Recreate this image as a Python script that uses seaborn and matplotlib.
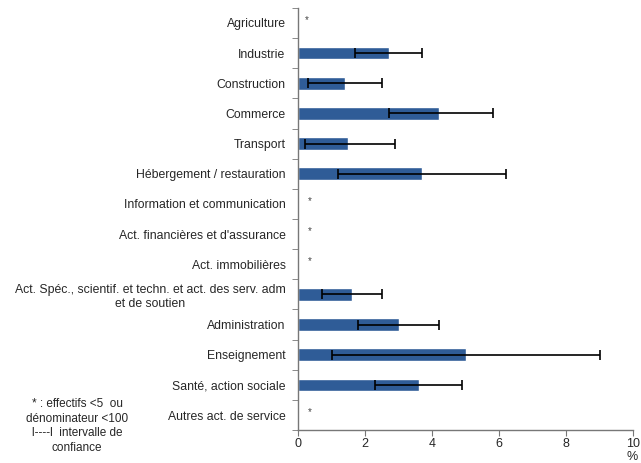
import numpy as np
import pandas as pd
import seaborn as sns
import matplotlib.pyplot as plt

# Data (%, with confidence interval)
categories = [
    "Agriculture", "Industrie", "Construction", "Commerce", "Transport",
    "Hébergement / restauration", "Information et communication",
    "Act. financières et d'assurance", "Act. immobilières",
    "Act. Spéc., scientif. et techn. et act. des serv. adm\net de soutien",
    "Administration", "Enseignement", "Santé, action sociale",
    "Autres act. de service",
]
values = [np.nan, 2.7, 1.4, 4.2, 1.5, 3.7, np.nan, np.nan, np.nan, 1.6, 3.0, 5.0, 3.6, np.nan]
ci_low = [np.nan, 1.7, 0.3, 2.7, 0.2, 1.2, np.nan, np.nan, np.nan, 0.7, 1.8, 1.0, 2.3, np.nan]
ci_high = [np.nan, 3.7, 2.5, 5.8, 2.9, 6.2, np.nan, np.nan, np.nan, 2.5, 4.2, 9.0, 4.9, np.nan]

df = pd.DataFrame({"secteur": categories, "valeur": values, "lo": ci_low, "hi": ci_high})

sns.set_style("white")
plt.rcParams["font.family"] = ["Liberation Sans", "DejaVu Sans"]

fig = plt.figure(figsize=(6.41, 4.63), dpi=100)
ax = fig.add_axes([0.465, 0.071, 0.523, 0.912])

sns.barplot(data=df, x="valeur", y="secteur", order=categories, orient="h",
            color="#2F5C97", saturation=1, width=0.42, ax=ax, errorbar=None)

# confidence intervals
ypos = np.arange(len(categories))
ok = df["valeur"].notna().values
xerr = np.vstack([(df["valeur"] - df["lo"]).values[ok], (df["hi"] - df["valeur"]).values[ok]])
ax.errorbar(df["valeur"].values[ok], ypos[ok], xerr=xerr, fmt="none",
            ecolor="black", elinewidth=1.2, capsize=3.5, capthick=1.2)

# asterisks for suppressed values
for i, v in enumerate(values):
    if np.isnan(v):
        dx = 0.25 if i == 0 else 0.35
        ax.text(dx, i - 0.1, "*", ha="center", va="center", fontsize=7, color="#444444")

ax.set_xlim(0, 10)
ax.set_ylim(len(categories) - 0.5, -0.5)
ax.set_xticks(range(0, 11, 2))
ax.set_xlabel("")
ax.set_ylabel("")

# category separators as outward ticks
ax.set_yticks(np.arange(-0.5, len(categories), 1), minor=True)
ax.tick_params(axis="y", which="major", length=0, labelsize=8.8, pad=9)
ax.tick_params(axis="y", which="minor", length=4, color="#777777", left=True)
ax.tick_params(axis="x", length=4, color="#777777", bottom=True, labelsize=9, pad=2)
for lab in ax.get_yticklabels():
    lab.set_multialignment("center")

for s in ["top", "right"]:
    ax.spines[s].set_visible(False)
for s in ["left", "bottom"]:
    ax.spines[s].set_color("#777777")
    ax.spines[s].set_linewidth(1)

fig.text(632 / 641, 1 - 457 / 463, "%", ha="center", va="center", fontsize=9)
fig.text(77 / 641, 1 - 426 / 463,
         "* : effectifs <5  ou\ndénominateur <100\nl----l  intervalle de\nconfiance",
         ha="center", va="center", fontsize=8.5, linespacing=1.3)

fig.savefig("out.png", dpi=100)
